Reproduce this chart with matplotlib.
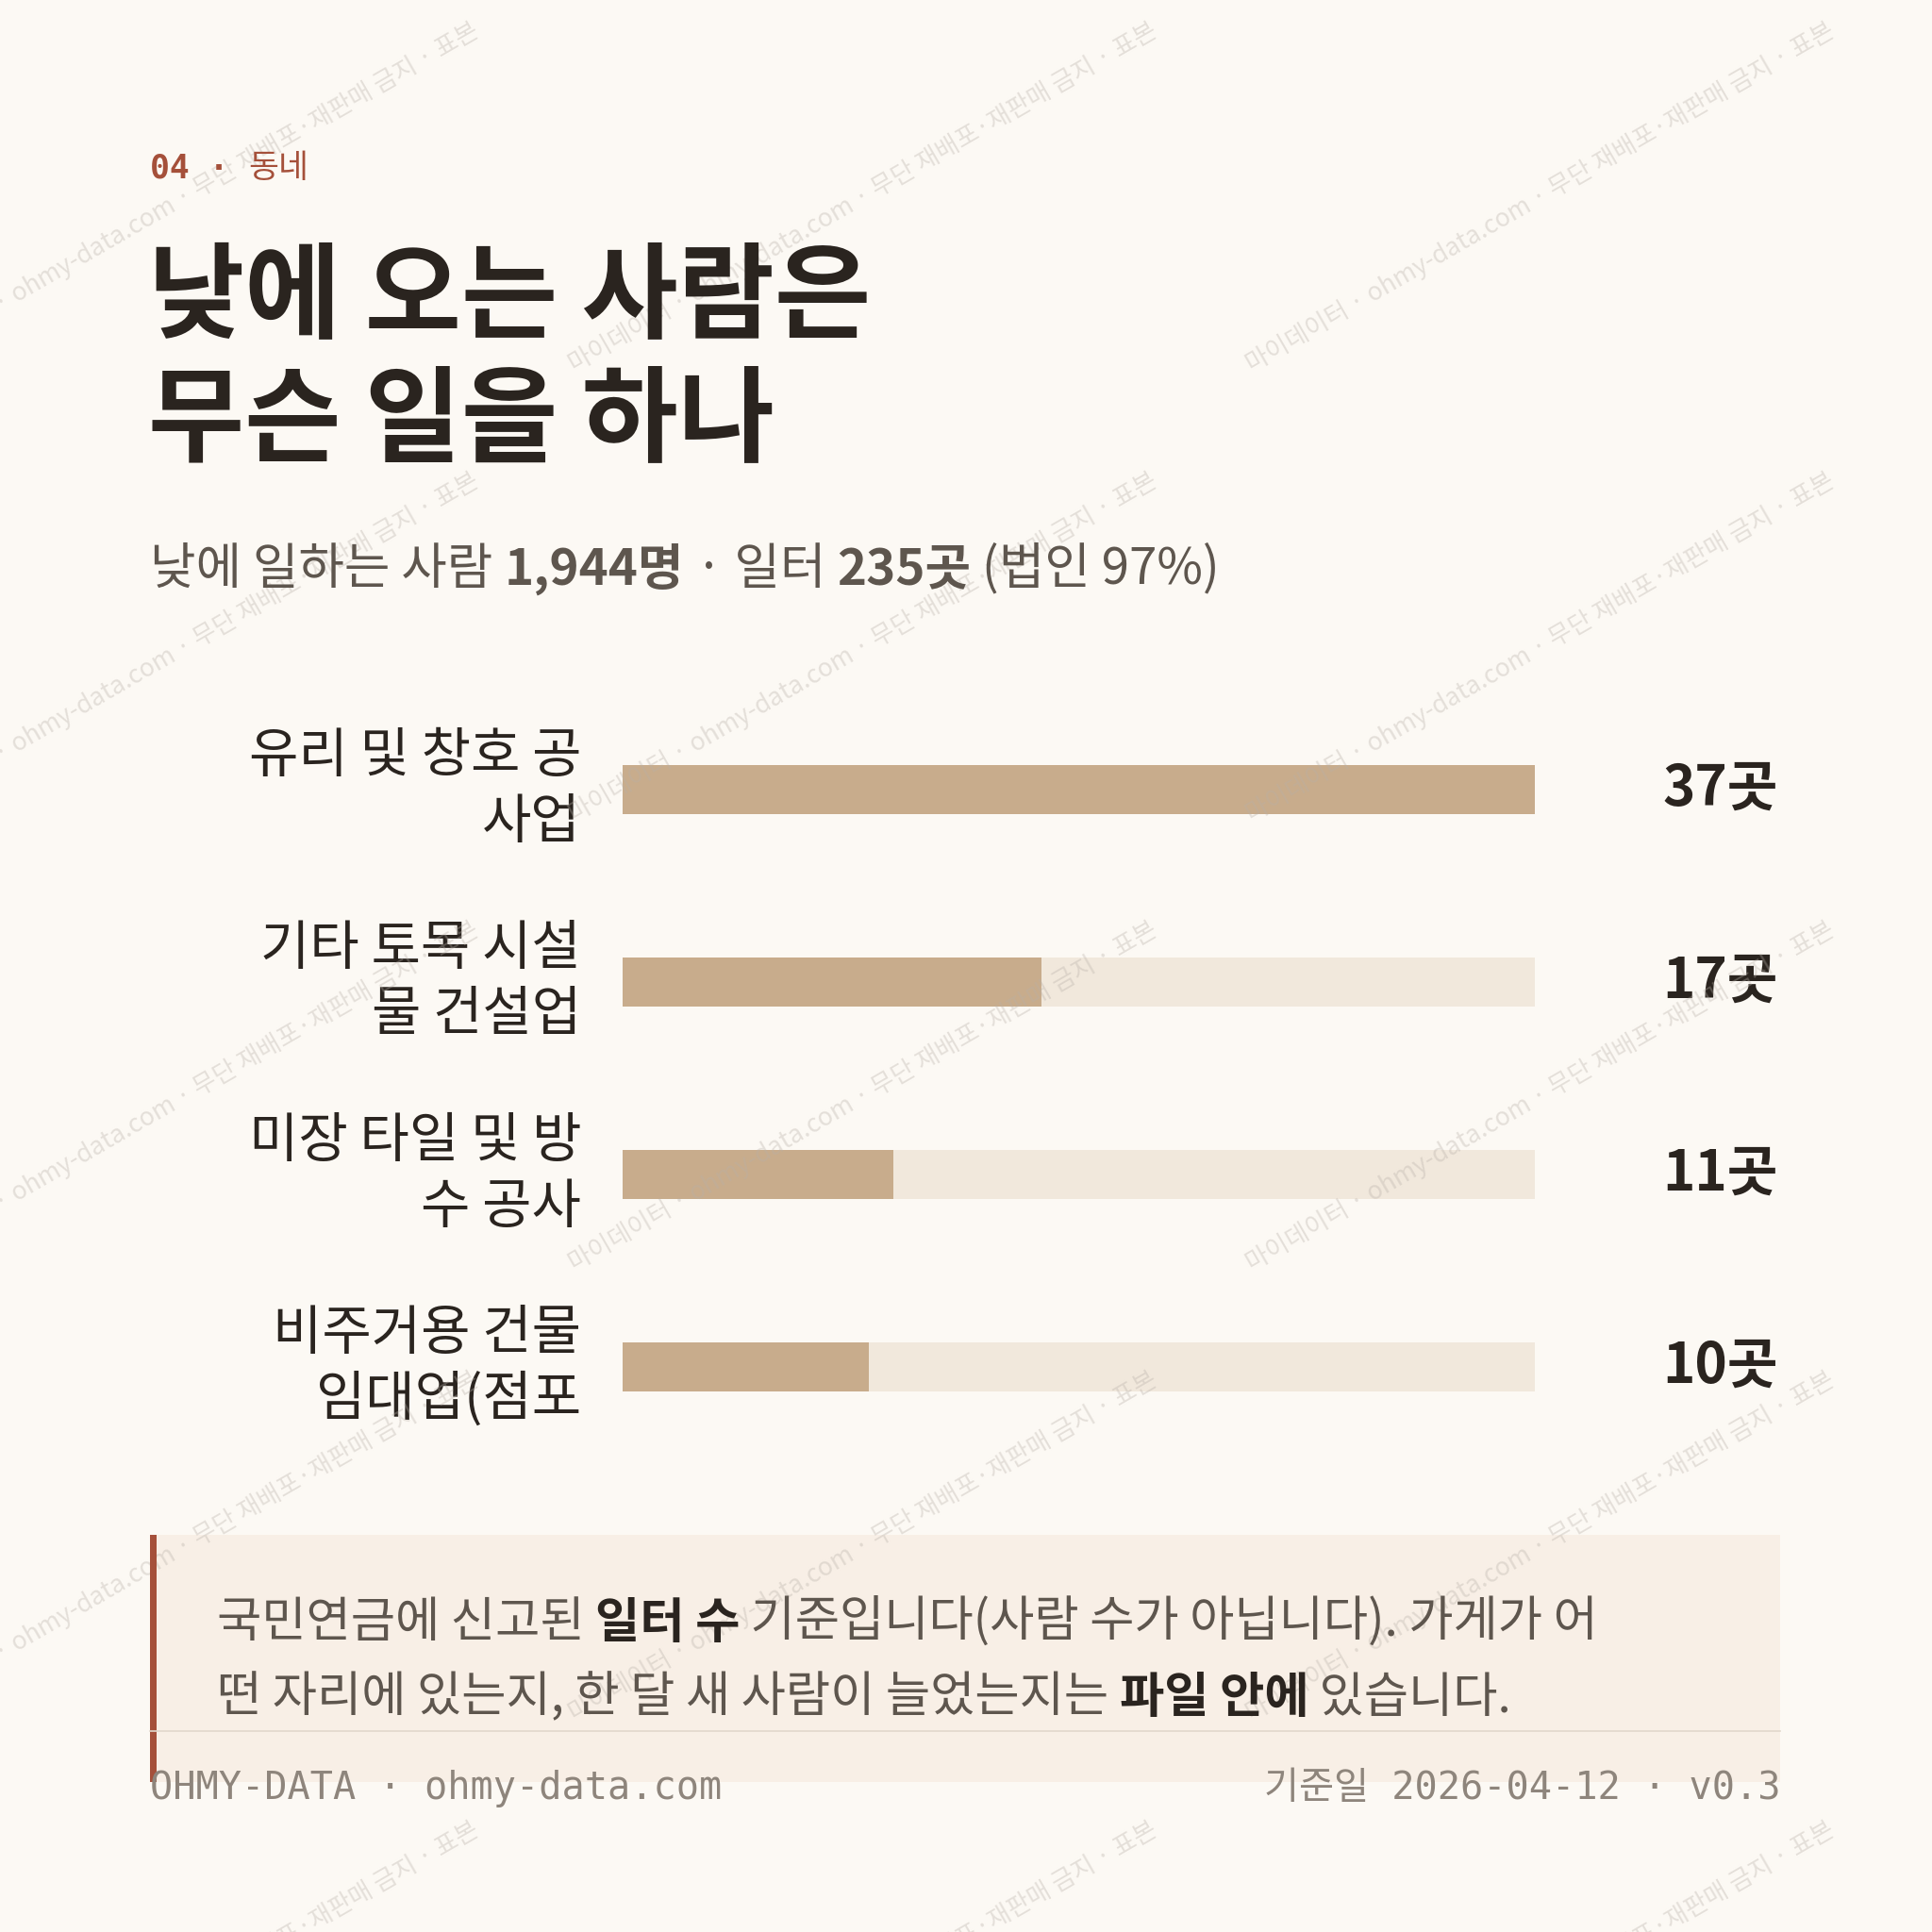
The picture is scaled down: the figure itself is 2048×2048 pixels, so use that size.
import matplotlib
matplotlib.use("Agg")
import matplotlib.pyplot as plt
import matplotlib.transforms as mt
from matplotlib.patches import Rectangle

categories = ["유리 및 창호 공\n사업", "기타 토목 시설\n물 건설업", "미장 타일 및 방\n수 공사", "비주거용 건물\n임대업(점포"]
values = [37, 17, 11, 10]
value_labels = ["37곳", "17곳", "11곳", "10곳"]

BG = "#FCF9F4"; RUST = "#A5503A"; DARK = "#2A241F"; GREY = "#5E564E"
BAR = "#C8AC8C"; TRACK = "#F1E8DC"; NOTE = "#F8EFE6"
KR = ["Noto Sans CJK KR", "DejaVu Sans"]
MONO = ["DejaVu Sans Mono", "Noto Sans CJK KR"]
S = 1568.0

fig = plt.figure(figsize=(20.48, 20.48), dpi=100, facecolor=BG)
def fx(x): return x / S
def fy(y): return 1 - y / S

# watermark
for r in range(0, 5):
    for c in range(0, 3):
        fig.text(fx(c * 550 + 150), fy(r * 365 + 160), "마이데이터 · ohmy-data.com · 무단 재배포·재판매 금지 · 표본",
                 rotation=30, fontsize=19, color="#B8B0A8", alpha=0.35, family=KR, ha="center", va="center", zorder=0)

fig.canvas.draw()
R = fig.canvas.get_renderer()
def seq(x, y, parts, size, va="center"):
    for txt, weight, color, fam in parts:
        t = fig.text(x, y, txt, fontsize=size, fontweight=weight, color=color, family=fam, va=va, ha="left")
        bb = t.get_window_extent(R)
        x += bb.width / fig.bbox.width

seq(fx(122), fy(137), [("04 · ", "bold", RUST, MONO), ("동네", "normal", RUST, KR)], 25)
fig.text(fx(120), fy(243), "낮에 오는 사람은", fontsize=80, fontweight="bold", color=DARK, family=KR, va="center")
fig.text(fx(120), fy(343), "무슨 일을 하나", fontsize=80, fontweight="bold", color=DARK, family=KR, va="center")
seq(fx(122), fy(462), [("낮에 일하는 사람 ", "normal", GREY, KR), ("1,944명", "bold", GREY, KR),
                      (" · 일터 ", "normal", GREY, KR), ("235곳", "bold", GREY, KR), (" (법인 97%)", "normal", GREY, KR)], 38)

# bars
ax = fig.add_axes([fx(505), fy(1170), (1246 - 505) / S, (1170 - 580) / S])
ax.set_facecolor("none")
ys = list(range(len(values)))
ax.barh(ys, [max(values)] * len(values), height=0.256, color=TRACK, zorder=1)
ax.barh(ys, values, height=0.256, color=BAR, zorder=2)
ax.set_xlim(0, max(values)); ax.set_ylim(3.39, -0.39)
ax.axis("off")
tr = mt.blended_transform_factory(ax.transAxes, ax.transData)
for i, (c, v) in enumerate(zip(categories, value_labels)):
    ax.text(-0.045, i, c, transform=tr, ha="right", va="center", fontsize=41, color=DARK, family=KR, linespacing=1.25)
    ax.text(1.266, i, v, transform=tr, ha="right", va="center", fontsize=42, fontweight="bold", color=DARK, family=KR)

# note box
fig.patches.append(Rectangle((fx(122), fy(1446)), (1445 - 122) / S, 200 / S, transform=fig.transFigure, facecolor=NOTE, zorder=0))
fig.patches.append(Rectangle((fx(122), fy(1446)), 5 / S, 200 / S, transform=fig.transFigure, facecolor=RUST, zorder=1))
seq(fx(176), fy(1317), [("국민연금에 신고된 ", "normal", GREY, KR), ("일터 수", "bold", DARK, KR),
                       (" 기준입니다(사람 수가 아닙니다). 가게가 어", "normal", GREY, KR)], 37)
seq(fx(176), fy(1378), [("떤 자리에 있는지, 한 달 새 사람이 늘었는지는 ", "normal", GREY, KR), ("파일 안에", "bold", DARK, KR),
                       (" 있습니다.", "normal", GREY, KR)], 37)

fig.add_artist(plt.Line2D([fx(122), fx(1445)], [fy(1405), fy(1405)], color="#E2D8CC", lw=1.2))
fig.text(fx(122), fy(1452), "OHMY-DATA · ohmy-data.com", fontsize=29, color="#8E857C", family=MONO, va="center")
fig.text(fx(1445), fy(1452), "기준일 2026-04-12 · v0.3", fontsize=29, color="#8E857C", family=MONO, va="center", ha="right")

fig.savefig("out.png", dpi=100, facecolor=BG)
